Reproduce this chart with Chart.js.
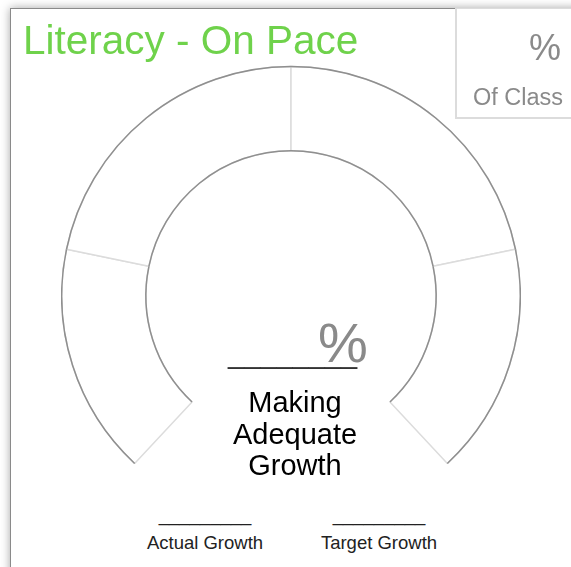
<!DOCTYPE html>
<html>
<head>
<meta charset="utf-8">
<script src="https://cdn.jsdelivr.net/npm/chart.js@4.4.0/dist/chart.umd.min.js"></script>
<style>
  html, body { margin: 0; padding: 0; width: 571px; height: 567px; overflow: hidden; background: #fff; font-family: "Liberation Sans", Arial, Helvetica, sans-serif; }
  .abs { position: absolute; white-space: nowrap; }
  #frame { position: absolute; left: 10px; top: 8px; width: 640px; height: 640px; border-left: 1px solid #8a8a8a; border-top: 1px solid #8a8a8a; box-shadow: 0 0 9px rgba(0,0,0,0.35); background: #fff; }
  #box { position: absolute; left: 455px; top: 8px; width: 130px; height: 108px; border-left: 2px solid #dcdcdc; border-bottom: 2px solid #dcdcdc; border-top: 1px solid #dcdcdc; background: #fff; }
  #chartWrap { position: absolute; left: 61px; top: 55px; width: 460px; height: 420px; }
</style>
</head>
<body>
<div id="frame"></div>
<div id="box"></div>
<div id="chartWrap"><canvas id="c"></canvas></div>

<div class="abs" id="title" style="left:23px; top:20px; font-size:40.5px; line-height:40px; color:#6fd24b;">Literacy - On Pace</div>
<div class="abs" style="right:10px; top:30px; font-size:36px; line-height:36px; color:#8a8a8a;">%</div>
<div class="abs" style="right:8px; top:86px; font-size:23.5px; line-height:23px; color:#8a8a8a;">Of Class</div>

<div class="abs" style="left:228px; top:339px; font-size:29px; line-height:29px; color:#333;">________</div>
<div class="abs" style="left:318px; top:315px; font-size:56px; line-height:56px; color:#8a8a8a;">%</div>
<div class="abs" style="left:195px; width:200px; text-align:center; top:387px; font-size:29px; line-height:31.5px; color:#000;">Making<br>Adequate<br>Growth</div>

<div class="abs" style="left:105px; width:200px; text-align:center; top:506px; font-size:18.5px; line-height:18.5px; color:#222;">_________</div>
<div class="abs" style="left:105px; width:200px; text-align:center; top:534px; font-size:18.5px; line-height:18.5px; color:#222;">Actual Growth</div>
<div class="abs" style="left:279px; width:200px; text-align:center; top:506px; font-size:18.5px; line-height:18.5px; color:#222;">_________</div>
<div class="abs" style="left:279px; width:200px; text-align:center; top:534px; font-size:18.5px; line-height:18.5px; color:#222;">Target Growth</div>

<script>
const zoneLabels = ['Zone 1', 'Zone 2', 'Zone 3', 'Zone 4'];
const zoneValues = [30, 40, 40, 30];

const edgeArcs = {
  id: 'edgeArcs',
  afterDatasetsDraw(chart) {
    const ctx = chart.ctx;
    const meta = chart.getDatasetMeta(0);
    ctx.save();
    ctx.strokeStyle = '#8f8f8f';
    ctx.lineWidth = 1.5;
    meta.data.forEach(el => {
      const p = el.getProps(['x', 'y', 'startAngle', 'endAngle', 'innerRadius', 'outerRadius'], true);
      ctx.beginPath();
      ctx.arc(p.x, p.y, p.outerRadius, p.startAngle, p.endAngle);
      ctx.stroke();
      ctx.beginPath();
      ctx.arc(p.x, p.y, p.innerRadius, p.startAngle, p.endAngle);
      ctx.stroke();
    });
    ctx.restore();
  }
};

new Chart(document.getElementById('c'), {
  type: 'doughnut',
  data: {
    labels: zoneLabels,
    datasets: [{
      data: zoneValues,
      backgroundColor: '#ffffff',
      borderColor: '#dcdcdc',
      borderWidth: 1.5,
      hoverOffset: 0
    }]
  },
  options: {
    responsive: true,
    maintainAspectRatio: false,
    animation: false,
    rotation: -137,
    circumference: 274,
    cutout: '63.3%',
    layout: { padding: 0 },
    plugins: { legend: { display: false }, tooltip: { enabled: false } }
  },
  plugins: [edgeArcs]
});
</script>
</body>
</html>
